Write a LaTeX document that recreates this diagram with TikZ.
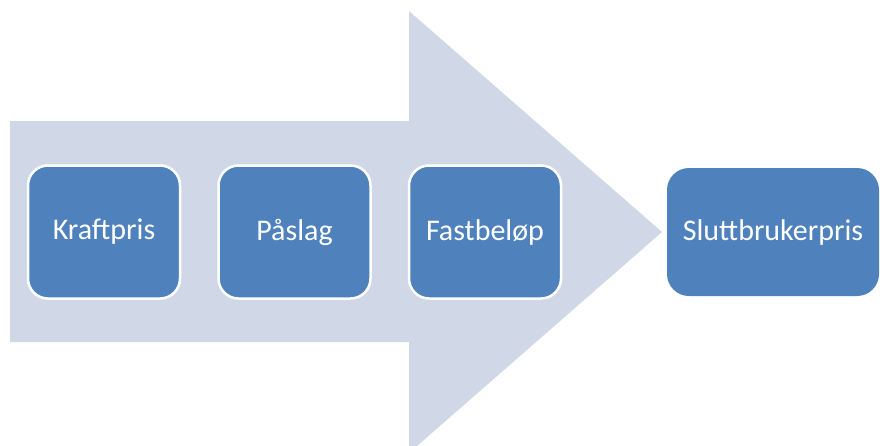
\documentclass[tikz,border=0pt]{standalone}
\usepackage{fontspec}
\setmainfont{Carlito}
\definecolor{arrowfill}{RGB}{208,216,232}
\definecolor{boxfill}{RGB}{79,129,189}
\tikzset{
  stepbox/.style={draw=white, line width=2.5pt, fill=boxfill, rounded corners=20pt,
    minimum width=152pt, minimum height=133pt, text=white, inner sep=0pt,
    font=\fontsize{30}{36}\selectfont},
  endbox/.style={fill=boxfill, rounded corners=22pt,
    minimum width=212pt, minimum height=128pt, text=white, inner sep=0pt,
    font=\fontsize{30}{36}\selectfont}
}
\begin{document}
\begin{tikzpicture}[x=1pt,y=-1pt]
\useasboundingbox (0,0) rectangle (880,445);
\clip (0,0) rectangle (880,445);
\fill[arrowfill] (10,121) -- (409,121) -- (409,11) -- (662,232) -- (409,453) -- (409,342) -- (10,342) -- cycle;
\node[stepbox] (kraft) at (104,232) {Kraftpris};
\node[stepbox] (paslag) at (294.5,232) {Påslag};
\node[stepbox] (fast) at (485,232) {Fastbeløp};
\node[endbox] (slutt) at (773,232) {Sluttbrukerpris};
\end{tikzpicture}
\end{document}
